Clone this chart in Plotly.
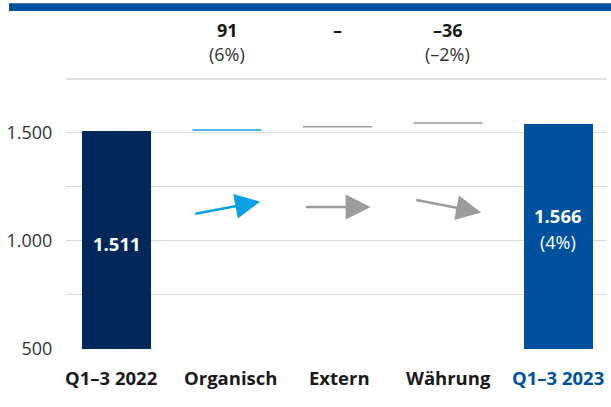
import plotly.graph_objects as go

# ---- data ----
categories = ["Q1–3 2022", "Organisch", "Extern", "Währung", "Q1–3 2023"]
cat_colors = ["#1a1a1a", "#1a1a1a", "#1a1a1a", "#1a1a1a", "#0050a0"]
cat_shift = [-6, 3, 2, 1, 0]        # small horizontal offsets of category labels (px)
bar_idx = [0, 4]
bar_heights = [1507, 1543]          # drawn heights of the two total bars
bar_colors = ["#00285a", "#0050a0"]
step_idx = [1, 2, 3]
step_levels = [1514, 1529, 1546]    # thin connector levels
step_colors = ["#0aa0e6", "#9b9b9b", "#9b9b9b"]
delta_values = ["91", "–", "–36"]
delta_pcts = ["(6%)", "", "(–2%)"]
total_labels = ["1.511", "1.566"]
total_pcts = ["", "(4%)"]
# arrows: (tail y, head y) in data units
arrow_tail = [1125, 1157, 1191]
arrow_head = [1182, 1157, 1132]
arrow_colors = ["#0aa0e6", "#9b9b9b", "#9b9b9b"]
ytick_vals = [500, 750, 1000, 1250, 1500, 1750]
ytick_text = ["500", "", "1.000", "", "1.500", ""]

FONT = "Open Sans"
BW = 0.624
DARK = "#1a1a1a"
GRID = "#d6d9de"
Y_MIN, Y_MAX = 499.5, 1750

fig = go.Figure()
fig.add_trace(go.Bar(
    x=bar_idx, y=[h - 500 for h in bar_heights], base=500,
    width=BW, marker=dict(color=bar_colors, line=dict(width=0)),
    hoverinfo="skip", showlegend=False))

for i, lvl, c in zip(step_idx, step_levels, step_colors):
    fig.add_trace(go.Scatter(x=[i - BW / 2, i + BW / 2], y=[lvl, lvl], mode="lines",
                             line=dict(color=c, width=1.5), hoverinfo="skip", showlegend=False))

# arrows
for i, t, h, c in zip(step_idx, arrow_tail, arrow_head, arrow_colors):
    fig.add_annotation(x=i + 0.3, y=h, ax=i - 0.3, ay=t, xref="x", yref="y", axref="x", ayref="y",
                       showarrow=True, arrowhead=2, arrowsize=2.0, arrowwidth=2.5, arrowcolor=c,
                       text="", standoff=0)

# delta labels above
for i, v, p in zip(step_idx, delta_values, delta_pcts):
    fig.add_annotation(x=i, y=1.182, xref="x", yref="paper", text="<b>" + v + "</b>",
                       showarrow=False, font=dict(family=FONT, size=18, color=DARK), yanchor="middle")
    if p:
        fig.add_annotation(x=i, y=1.091, xref="x", yref="paper", text=p,
                           showarrow=False, font=dict(family=FONT, size=18, color="#333333"), yanchor="middle")

# total labels
tot_y = [987, 1117]
pct_y = [None, 997]
for i, lab, p, ty, py in zip(bar_idx, total_labels, total_pcts, tot_y, pct_y):
    fig.add_annotation(x=i, y=ty, xref="x", yref="y", text="<b>" + lab + "</b>", showarrow=False,
                       font=dict(family=FONT, size=18.5, color="white"), yanchor="middle")
    if p:
        fig.add_annotation(x=i, y=py, xref="x", yref="y", text=p, showarrow=False,
                           font=dict(family=FONT, size=18, color="white"), yanchor="middle")

# category labels
for i, (c, col, dx) in enumerate(zip(categories, cat_colors, cat_shift)):
    fig.add_annotation(x=i, y=0, xref="x", yref="paper", yshift=-28, xshift=dx,
                       text="<b>%s</b>" % c, showarrow=False, yanchor="middle",
                       font=dict(family=FONT, size=18.5, color=col))

# top gridline (at the range end, drawn in paper coords so it is not clipped)
top_frac = (ytick_vals[-1] - Y_MIN) / (Y_MAX - Y_MIN)
fig.add_shape(type="line", xref="paper", yref="paper", x0=0, x1=1, y0=top_frac, y1=top_frac,
              line=dict(color=GRID, width=1.5), layer="above")

# top band
fig.add_shape(type="rect", xref="paper", yref="paper", x0=-0.1054, x1=1.02, y0=1.2519, y1=1.2804,
              fillcolor="#0050a0", line=dict(width=0), layer="above")

fig.update_layout(
    width=611, height=407,
    margin=dict(l=66, r=4, t=79, b=58),
    paper_bgcolor="white", plot_bgcolor="white",
    font=dict(family=FONT, color=DARK),
    xaxis=dict(range=[-0.457, 4.439], showticklabels=False, showgrid=False,
               zeroline=False, showline=False, ticks="", fixedrange=True, automargin=False),
    yaxis=dict(range=[Y_MIN, Y_MAX], tickvals=ytick_vals, ticktext=ytick_text, showgrid=True,
               gridcolor=GRID, gridwidth=1.3, zeroline=False, showline=False,
               ticks="outside", ticklen=9, tickcolor="rgba(0,0,0,0)",
               tickfont=dict(family=FONT, size=18, color="#333333"), fixedrange=True, automargin=False),
    bargap=0,
)
fig.write_html("out.html", config={"displayModeBar": False},
               post_script="document.body.style.margin='0px';")
